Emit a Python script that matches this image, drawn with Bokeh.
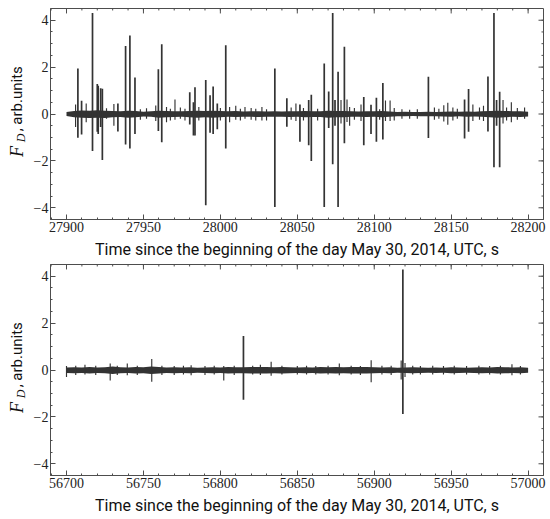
import math
import numpy as np
from bokeh.plotting import figure
from bokeh.layouts import column, row
from bokeh.models import Range1d, SingleIntervalTicker, FixedTicker
from bokeh.core.properties import value
from bokeh.embed import file_html
from bokeh.resources import INLINE

# ---------------- data ----------------
x_label = "Time since the beginning of the day May 30, 2014, UTC, s"
y_label_main = "F"
y_label_sub = "D"
y_label_rest = ", arb.units"

y_ticks = [-4, -2, 0, 2, 4]
y_tick_labels = ["\u22124", "\u22122", "0", "2", "4"]

# panel 1: 27900 .. 28200 s (noise envelope every 5 s, then spike events)
top_start, top_end = 27900, 28200
top_band_hi = [.08, .13, .15, .14, .16, .14, .13, .12, .14, .13,
               .10, .12, .14, .13, .12, .12, .13, .14, .13, .14,
               .13, .12, .13, .11, .12, .12, .11, .12, .11, .12,
               .12, .13, .12, .12, .14, .13, .13, .12, .11, .12,
               .12, .13, .11, .09, .10, .09, .09, .10, .09, .10,
               .11, .10, .11, .10, .12, .13, .14, .13, .12, .12,
               .10]
top_band_lo = [-.09, -.14, -.16, -.17, -.16, -.17, -.14, -.13, -.16, -.14,
               -.11, -.12, -.16, -.14, -.13, -.12, -.14, -.16, -.14, -.16,
               -.14, -.12, -.13, -.12, -.12, -.13, -.12, -.12, -.12, -.13,
               -.12, -.14, -.13, -.13, -.16, -.14, -.14, -.12, -.12, -.13,
               -.12, -.14, -.12, -.10, -.10, -.09, -.10, -.10, -.10, -.11,
               -.12, -.10, -.12, -.11, -.12, -.14, -.16, -.14, -.12, -.13,
               -.11]
top_ev_t = [27905.9, 27907.4, 27909.8, 27912.8, 27916.9, 27920.0, 27920.6, 27922.2, 27923.3, 27926.0,
            27930.8, 27933.4, 27938.4, 27941.2, 27944.5, 27948.0, 27952.0, 27958.0, 27959.7, 27961.9,
            27965.0, 27967.5, 27970.5, 27974.0, 27977.0, 27980.1, 27982.5, 27983.5, 27986.0, 27990.5,
            27993.3, 27995.3, 27998.0, 28000.0, 28003.5, 28006.0, 28010.0, 28013.0, 28016.0, 28020.0,
            28023.0, 28027.0, 28030.0, 28035.4, 28043.2, 28046.0, 28049.1, 28051.7, 28054.0, 28057.4,
            28059.1, 28063.2, 28067.5, 28070.4, 28073.0, 28074.5, 28076.5, 28078.4, 28080.6, 28082.3,
            28084.0, 28087.1, 28091.4, 28093.2, 28097.9, 28101.4, 28103.5, 28105.6, 28107.3, 28110.3,
            28113.0, 28118.0, 28123.0, 28128.0, 28135.2, 28139.1, 28142.0, 28145.2, 28147.8, 28151.1,
            28154.0, 28158.7, 28161.3, 28164.1, 28168.4, 28171.0, 28173.9, 28177.8, 28179.5, 28181.5,
            28183.7, 28186.0, 28189.1, 28193.0, 28197.7]
top_ev_hi = [0.40, 1.94, 0.57, 0.45, 4.31, 1.28, 1.20, 1.10, 1.08, 0.25,
             0.43, 0.45, 2.90, 3.35, 1.56, 0.20, 0.25, 0.36, 1.91, 2.97,
             0.30, 0.22, 0.62, 0.28, 0.22, 0.93, 0.50, 1.14, 0.30, 1.45,
             0.80, 1.17, 0.45, 0.26, 2.93, 0.30, 0.35, 0.22, 0.30, 0.26,
             0.22, 0.30, 0.20, 1.94, 0.67, 0.28, 0.45, 0.40, 0.26, 0.60,
             0.82, 0.22, 2.15, 0.96, 4.31, 0.60, 1.80, 0.60, 2.87, 0.62,
             0.30, 0.26, 0.40, 0.72, 0.39, 0.69, 0.20, 1.32, 0.58, 0.58,
             0.26, 0.20, 0.18, 0.20, 1.59, 0.28, 0.22, 0.37, 0.48, 0.28,
             0.22, 0.62, 1.07, 0.40, 0.28, 0.35, 1.60, 4.31, 0.60, 0.95,
             0.60, 0.28, 0.50, 0.26, 0.28]
top_ev_lo = [-0.55, -1.01, -0.87, -0.35, -1.58, -0.76, -0.85, -0.55, -1.96, -0.20,
             -0.50, -0.75, -1.30, -1.47, -0.85, -0.25, -0.20, -0.30, -0.73, -1.21,
             -0.35, -0.28, -0.25, -0.20, -0.28, -0.45, -0.92, -0.92, -0.28, -3.89,
             -0.80, -0.85, -0.65, -0.28, -1.47, -0.35, -0.24, -0.28, -0.20, -0.24,
             -0.28, -0.28, -0.28, -3.97, -0.54, -0.24, -0.30, -1.18, -0.28, -1.33,
             -2.00, -0.28, -3.97, -0.60, -2.14, -0.50, -3.97, -0.40, -1.25, -0.34,
             -0.50, -0.24, -0.30, -1.33, -0.85, -1.18, -0.24, -1.09, -0.30, -0.30,
             -0.28, -0.20, -0.20, -0.20, -1.02, -0.24, -0.20, -0.32, -0.46, -0.28,
             -0.20, -1.04, -0.76, -0.30, -0.24, -0.30, -0.75, -2.27, -0.50, -2.27,
             -0.40, -0.28, -0.35, -0.24, -0.20]

# panel 2: 56700 .. 57000 s
bot_start, bot_end = 56700, 57000
bot_band_hi = [.11, .12, .11, .13, .11, .12, .15, .12, .11, .13,
               .12, .15, .13, .11, .12, .11, .12, .10, .11, .12,
               .11, .13, .12, .12, .13, .13, .13, .12, .13, .12,
               .11, .12, .11, .13, .12, .13, .12, .13, .13, .13,
               .12, .11, .12, .10, .11, .12, .11, .10, .11, .10,
               .12, .11, .10, .11, .12, .11, .13, .12, .11, .12,
               .10]
bot_band_lo = [-.13, -.14, -.13, -.15, -.13, -.14, -.17, -.14, -.13, -.15,
               -.14, -.17, -.15, -.13, -.14, -.13, -.14, -.12, -.13, -.14,
               -.13, -.15, -.14, -.14, -.15, -.15, -.15, -.14, -.15, -.14,
               -.13, -.14, -.13, -.15, -.14, -.15, -.14, -.15, -.15, -.15,
               -.14, -.13, -.14, -.12, -.13, -.14, -.13, -.12, -.13, -.12,
               -.14, -.13, -.12, -.13, -.14, -.13, -.15, -.14, -.13, -.14,
               -.12]
bot_ev_t = [56700.0, 56706.0, 56712.0, 56719.0, 56728.4, 56733.0, 56739.5, 56746.0, 56755.4, 56762.0,
            56770.0, 56776.0, 56781.0, 56790.0, 56796.0, 56802.2, 56809.0, 56815.0, 56821.0, 56826.0,
            56833.0, 56840.0, 56850.0, 56856.0, 56862.0, 56870.0, 56877.3, 56885.0, 56891.0, 56898.0,
            56905.0, 56911.0, 56917.5, 56918.6, 56920.0, 56925.0, 56930.0, 56938.0, 56945.0, 56952.0,
            56960.0, 56968.0, 56975.0, 56982.0, 56989.5, 56995.0]
bot_ev_hi = [0.17, 0.18, 0.22, 0.18, 0.28, 0.18, 0.28, 0.18, 0.47, 0.18,
             0.17, 0.18, 0.20, 0.17, 0.18, 0.17, 0.18, 1.45, 0.18, 0.22,
             0.35, 0.18, 0.17, 0.18, 0.17, 0.18, 0.28, 0.18, 0.17, 0.42,
             0.18, 0.18, 0.40, 4.29, 0.30, 0.18, 0.17, 0.18, 0.17, 0.18,
             0.17, 0.18, 0.17, 0.18, 0.25, 0.17]
bot_ev_lo = [-0.30, -0.21, -0.19, -0.21, -0.45, -0.21, -0.22, -0.21, -0.50, -0.21,
             -0.21, -0.19, -0.22, -0.21, -0.19, -0.45, -0.21, -1.27, -0.19, -0.21,
             -0.25, -0.19, -0.19, -0.19, -0.19, -0.19, -0.22, -0.19, -0.21, -0.52,
             -0.19, -0.21, -0.40, -1.88, -0.30, -0.19, -0.19, -0.19, -0.19, -0.19,
             -0.19, -0.19, -0.19, -0.19, -0.22, -0.19]

# ---------------- styling ----------------
LINE = "#333333"
AX = "#4d4d4d"
TXT = "#111111"
TOTAL_W = 550
FRAME_W = 493
FRAME_H = 213
X_SPAN = 320.4
X_PAD = 10.4
Y_LO, Y_HI = -4.5, 4.5
LAB_W = 30          # strip that holds the y-axis title
AXIS_W = 20         # room for the y tick labels
BOTTOM = 40
SY = FRAME_H / (Y_HI - Y_LO)


def make_panel(start, end, band_hi, band_lo, ev_t, ev_hi, ev_lo, top_border):
    x0 = start - X_PAD
    x1 = x0 + X_SPAN
    W = TOTAL_W - LAB_W
    p = figure(width=W, height=top_border + FRAME_H + BOTTOM,
               x_range=Range1d(x0, x1), y_range=Range1d(Y_LO, Y_HI),
               output_backend="svg", toolbar_location=None,
               min_border_left=AXIS_W, min_border_right=W - AXIS_W - FRAME_W,
               min_border_top=top_border, min_border_bottom=BOTTOM,
               background_fill_color="white", border_fill_color="white",
               outline_line_color=AX, outline_line_width=1)
    p.grid.visible = False

    band_t = np.arange(start, end + 1, 5)
    p.varea(x=band_t, y1=band_lo, y2=band_hi, fill_color=LINE)
    widths = [1.7 if (h - l) > 1.0 else 1.15 for h, l in zip(ev_hi, ev_lo)]
    p.segment(x0=ev_t, y0=ev_lo, x1=ev_t, y1=ev_hi, line_color=LINE, line_width=widths)

    x_major = [t for t in np.arange(start - 50, end + 51, 50) if x0 < t < x1]
    x_minor = [t for t in np.arange(start - 50, end + 51, 10) if x0 < t < x1]
    y_minor = [v for v in np.arange(-4.5, 4.51, 0.5) if Y_LO < v < Y_HI]

    p.xaxis.ticker = SingleIntervalTicker(interval=50, num_minor_ticks=5)
    p.yaxis.ticker = FixedTicker(ticks=y_ticks, minor_ticks=y_minor)
    p.yaxis.major_label_overrides = {t: l for t, l in zip(y_ticks, y_tick_labels)}

    for ax in (p.xaxis[0], p.yaxis[0]):
        ax.axis_line_color = AX
        ax.major_tick_line_color = AX
        ax.minor_tick_line_color = AX
        ax.major_tick_in = 5
        ax.major_tick_out = 0
        ax.minor_tick_in = 2
        ax.minor_tick_out = 0
        ax.major_label_text_font = "Liberation Serif"
        ax.major_label_text_font_size = "14px"
        ax.major_label_text_color = "#222222"
        ax.major_label_standoff = 2
    p.xaxis.axis_label = x_label
    p.xaxis.axis_label_text_font = "Roboto"
    p.xaxis.axis_label_text_font_style = "normal"
    p.xaxis.axis_label_text_font_size = "16px"
    p.xaxis.axis_label_text_color = TXT
    p.xaxis.axis_label_standoff = 5

    # inward ticks on the top and right frame edges (mirrors of the bottom / left axes)
    sx = FRAME_W / X_SPAN
    maj, mnr = 5, 2
    tx = list(x_major) + list(x_minor)
    tl = [maj / SY] * len(x_major) + [mnr / SY] * len(x_minor)
    p.segment(x0=tx, y0=[Y_HI] * len(tx), x1=tx, y1=[Y_HI - d for d in tl],
              line_color=AX, line_width=1)
    ty = list(y_ticks) + list(y_minor)
    tw = [maj / sx] * len(y_ticks) + [mnr / sx] * len(y_minor)
    p.segment(x0=[x1] * len(ty), y0=ty, x1=[x1 - d for d in tw], y1=ty,
              line_color=AX, line_width=1)
    return p


def make_ylabel(p, top_border):
    lf = figure(width=LAB_W, height=p.height, x_range=Range1d(0, LAB_W), y_range=p.y_range,
                x_axis_location=None, y_axis_location=None,
                min_border_left=0, min_border_right=0,
                min_border_top=top_border, min_border_bottom=BOTTOM,
                output_backend="svg", toolbar_location=None, outline_line_color=None,
                background_fill_color="white", border_fill_color="white")
    lf.grid.visible = False
    common = dict(angle=math.pi / 2, text_align="left", text_baseline="middle",
                  text_color=TXT)
    lf.text(x=[16.0], y=[-43.5 / SY], text=[y_label_main], text_font=value("Liberation Serif"),
            text_font_style="italic", text_font_size="18px", **common)
    lf.text(x=[20.4], y=[-28.5 / SY], text=[y_label_sub], text_font=value("Liberation Serif"),
            text_font_style="italic", text_font_size="12px", **common)
    lf.text(x=[16.4], y=[-17.5 / SY], text=[y_label_rest], text_font=value("Roboto"),
            text_font_size="15px", **common)
    return lf


p1 = make_panel(top_start, top_end, top_band_hi, top_band_lo, top_ev_t, top_ev_hi, top_ev_lo, 8)
p2 = make_panel(bot_start, bot_end, bot_band_hi, bot_band_lo, bot_ev_t, bot_ev_hi, bot_ev_lo, 3)
l1 = make_ylabel(p1, 8)
l2 = make_ylabel(p2, 3)

layout = column(row(l1, p1, spacing=0), row(l2, p2, spacing=0), spacing=0)
open("out.html", "w").write(file_html(layout, INLINE))
